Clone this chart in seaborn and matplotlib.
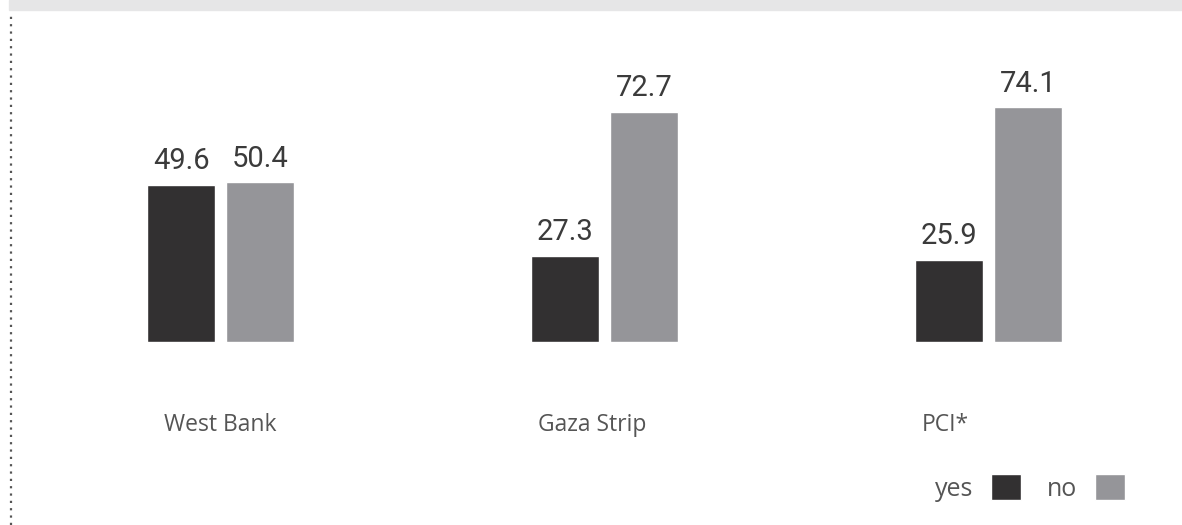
import matplotlib
matplotlib.use("Agg")
import matplotlib.pyplot as plt
import matplotlib.transforms as mtransforms
import pandas as pd
import seaborn as sns
from matplotlib.lines import Line2D
from matplotlib.patches import Patch, Rectangle

regions = ["West Bank", "Gaza Strip", "PCI*"]
answers = ["yes", "no"]
yes_values = [49.6, 27.3, 25.9]
no_values = [50.4, 72.7, 74.1]

DARK = "#323031"
GRAY = "#959599"
TEXT = "#3b3b3b"
LABEL = "#555555"

df = pd.DataFrame({
    "region": regions * 2,
    "answer": ["yes"] * 3 + ["no"] * 3,
    "value": yes_values + no_values,
})

sns.set_theme(style="white")
plt.rcParams["font.family"] = ["Roboto", "DejaVu Sans"]

W, H = 1182, 525
fig = plt.figure(figsize=(W / 100, H / 100), dpi=100)
ax = fig.add_axes([28.5 / W, (H - 342) / H, 1152 / W, 316.5 / H])

sns.barplot(data=df, x="region", y="value", hue="answer", hue_order=answers,
            palette=[DARK, GRAY], width=0.411, gap=0.139, saturation=1,
            legend=False, ax=ax)

for cont in ax.containers:
    ax.bar_label(cont, fmt="%.1f", padding=7, fontsize=21, color=TEXT,
                 family=["Roboto", "DejaVu Sans"])

ax.set_xlim(-0.5, 2.5)
ax.set_ylim(0, 100)
ax.set_xlabel("")
ax.set_ylabel("")
ax.set_yticks([])
ax.tick_params(axis="x", length=0, pad=51)
# the category labels sit a little left of their bars in the original
label_shift = [0, -12, -43]
for lab, dx in zip(ax.get_xticklabels(), label_shift):
    lab.set_fontfamily(["Open Sans", "DejaVu Sans"])
    lab.set_fontsize(16.5)
    lab.set_color(LABEL)
    lab.set_transform(lab.get_transform() +
                      mtransforms.ScaledTranslation(dx / 100, 0, fig.dpi_scale_trans))
sns.despine(ax=ax, left=True, bottom=True)

# grey band on top and dotted rule on the left
fig.patches.append(Rectangle((9 / W, 1 - 10 / H), 1, 10 / H,
                             transform=fig.transFigure, color="#e6e6e7", zorder=0))
fig.lines.append(Line2D([10.5 / W, 10.5 / W], [0, 1 - 12 / H],
                        transform=fig.transFigure, color="#555555",
                        linewidth=1.6, linestyle=(0, (1, 2.3))))

handles = [Patch(facecolor=DARK), Patch(facecolor=GRAY)]
fig.legend(handles, answers, loc="center right", bbox_to_anchor=(1125 / W, 1 - 488 / H),
           ncol=2, frameon=False, markerfirst=False,
           handlelength=1.2, handleheight=1.2, handletextpad=0.7,
           columnspacing=1.05, borderpad=0, borderaxespad=0,
           prop={"family": ["Open Sans", "DejaVu Sans"], "size": 18},
           labelcolor=LABEL)

fig.savefig("out.png", dpi=100)
